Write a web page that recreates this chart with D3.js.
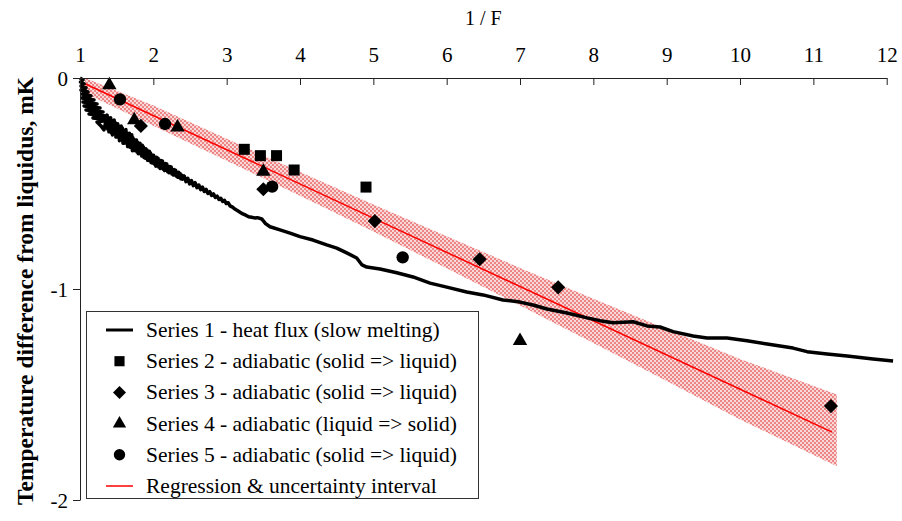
<!DOCTYPE html>
<html>
<head>
<meta charset="utf-8">
<script src="https://cdn.jsdelivr.net/npm/d3@7"></script>
<style>
  body { margin: 0; background: #fff; }
  svg text { font-family: "Liberation Serif", "Times New Roman", serif; }
</style>
</head>
<body>
<div id="chart"></div>
<script>
// axis ticks
const xTicks = [1, 2, 3, 4, 5, 6, 7, 8, 9, 10, 11, 12];
const yTicks = [0, -1, -2];

// Series 1 - heat flux (slow melting), [1/F, mK] - noisy at the start
const heatFlux = [
  [1.000, 0.000], [1.041, -0.009], [1.007, -0.019], [1.055, -0.028], [1.014, -0.038],
  [1.082, -0.047], [1.014, -0.057], [1.109, -0.066], [1.027, -0.076], [1.150, -0.085],
  [1.027, -0.095], [1.191, -0.104], [1.041, -0.114], [1.232, -0.123], [1.055, -0.133],
  [1.273, -0.142], [1.082, -0.152], [1.314, -0.161], [1.123, -0.171], [1.355, -0.180],
  [1.177, -0.190], [1.395, -0.199], [1.232, -0.209], [1.286, -0.227], [1.327, -0.246],
  [1.370, -0.176], [1.378, -0.242], [1.386, -0.193], [1.394, -0.255], [1.402, -0.189],
  [1.410, -0.239], [1.418, -0.188], [1.426, -0.260], [1.434, -0.202], [1.442, -0.270],
  [1.450, -0.213], [1.458, -0.263], [1.466, -0.199], [1.474, -0.263], [1.482, -0.212],
  [1.490, -0.280], [1.498, -0.230], [1.506, -0.280], [1.514, -0.217], [1.522, -0.279],
  [1.530, -0.227], [1.538, -0.297], [1.546, -0.236], [1.554, -0.292], [1.562, -0.228],
  [1.570, -0.286], [1.578, -0.237], [1.586, -0.309], [1.594, -0.251], [1.602, -0.309],
  [1.610, -0.248], [1.618, -0.308], [1.626, -0.244], [1.634, -0.306], [1.642, -0.261],
  [1.650, -0.325], [1.658, -0.273], [1.666, -0.325], [1.674, -0.262], [1.682, -0.328],
  [1.690, -0.272], [1.698, -0.326], [1.706, -0.269], [1.714, -0.345], [1.722, -0.283],
  [1.730, -0.341], [1.738, -0.293], [1.746, -0.344], [1.754, -0.294], [1.762, -0.338],
  [1.770, -0.294], [1.778, -0.351], [1.786, -0.305], [1.794, -0.359], [1.802, -0.315],
  [1.810, -0.357], [1.818, -0.309], [1.826, -0.360], [1.834, -0.320], [1.842, -0.370],
  [1.850, -0.319], [1.858, -0.365], [1.866, -0.327], [1.874, -0.377], [1.882, -0.339],
  [1.890, -0.380], [1.898, -0.335], [1.906, -0.380], [1.914, -0.341], [1.922, -0.390],
  [1.930, -0.349], [1.938, -0.391], [1.946, -0.347], [1.954, -0.389], [1.962, -0.356],
  [1.970, -0.401], [1.978, -0.365], [1.986, -0.403], [1.994, -0.366], [2.004, -0.366],
  [2.014, -0.408], [2.024, -0.378], [2.034, -0.418], [2.044, -0.376], [2.054, -0.411],
  [2.064, -0.380], [2.074, -0.422], [2.084, -0.390], [2.094, -0.429], [2.104, -0.391],
  [2.114, -0.425], [2.124, -0.393], [2.134, -0.432], [2.144, -0.405], [2.154, -0.439],
  [2.164, -0.405], [2.174, -0.437], [2.184, -0.408], [2.194, -0.444], [2.204, -0.419],
  [2.214, -0.449], [2.224, -0.419], [2.234, -0.448], [2.244, -0.422], [2.254, -0.455],
  [2.264, -0.433], [2.274, -0.460], [2.284, -0.434], [2.294, -0.460], [2.304, -0.437],
  [2.314, -0.465], [2.324, -0.446], [2.334, -0.470], [2.344, -0.447], [2.354, -0.472],
  [2.364, -0.453], [2.374, -0.478], [2.384, -0.460], [2.394, -0.480], [2.420, -0.464],
  [2.445, -0.491], [2.470, -0.475], [2.495, -0.502], [2.520, -0.486], [2.545, -0.510],
  [2.570, -0.496], [2.595, -0.520], [2.620, -0.507], [2.645, -0.529], [2.670, -0.517],
  [2.695, -0.538], [2.720, -0.528], [2.745, -0.547], [2.770, -0.539], [2.795, -0.557],
  [2.820, -0.549], [2.845, -0.566], [2.870, -0.560], [2.895, -0.576], [2.920, -0.570],
  [2.945, -0.585], [2.970, -0.580], [2.995, -0.595], [3.020, -0.591], [3.046, -0.606],
  [3.080, -0.612], [3.110, -0.621], [3.145, -0.628], [3.182, -0.636], [3.220, -0.644],
  [3.260, -0.650], [3.300, -0.658], [3.340, -0.660], [3.380, -0.663], [3.420, -0.662],
  [3.478, -0.668], [3.530, -0.690], [3.591, -0.705], [3.727, -0.720], [3.864, -0.735],
  [4.000, -0.752], [4.177, -0.768], [4.364, -0.791], [4.501, -0.806], [4.637, -0.829],
  [4.773, -0.853], [4.846, -0.886], [4.910, -0.896], [5.091, -0.905], [5.319, -0.923],
  [5.541, -0.943], [5.773, -0.972], [6.001, -0.991], [6.273, -1.014], [6.496, -1.028],
  [6.768, -1.052], [7.000, -1.062], [7.177, -1.076], [7.368, -1.095], [7.641, -1.114],
  [7.914, -1.137], [8.091, -1.150], [8.268, -1.160], [8.541, -1.155], [8.732, -1.175],
  [8.909, -1.180], [9.087, -1.202], [9.360, -1.223], [9.550, -1.232], [9.823, -1.232],
  [10.096, -1.245], [10.369, -1.261], [10.723, -1.280], [10.914, -1.297], [11.187, -1.308],
  [11.460, -1.318], [11.814, -1.332], [12.087, -1.341]
];

// adiabatic series, [1/F, mK]
const series2 = [[3.24, -0.338], [3.46, -0.368], [3.68, -0.368], [3.92, -0.436], [4.90, -0.517]];
const series3 = [[1.83, -0.227], [3.50, -0.527], [5.02, -0.678], [6.45, -0.859], [7.52, -0.992], [11.24, -1.555]];
const series4 = [[1.40, -0.033], [1.74, -0.199], [2.33, -0.234], [3.50, -0.444], [7.00, -1.246]];
const series5 = [[1.545, -0.101], [2.16, -0.218], [3.62, -0.515], [5.40, -0.850]];

// regression line and uncertainty interval
const regression = [[1.068, -0.027], [11.255, -1.678]];
const bandX = [1.07, 2, 3, 4, 5, 6, 7, 8, 9, 10, 11.32];
const bandHigh = [0.000, -0.130, -0.288, -0.446, -0.600, -0.750, -0.900, -1.046, -1.190, -1.332, -1.500];
const bandLow = [-0.072, -0.226, -0.392, -0.558, -0.728, -0.902, -1.078, -1.256, -1.436, -1.618, -1.840];

const legendItems = [
  { label: 'Series 1 - heat flux (slow melting)', kind: 'line', color: '#000' },
  { label: 'Series 2 - adiabatic (solid => liquid)', kind: 'square' },
  { label: 'Series 3 - adiabatic (solid => liquid)', kind: 'diamond' },
  { label: 'Series 4 - adiabatic (liquid => solid)', kind: 'triangle' },
  { label: 'Series 5 - adiabatic (solid => liquid)', kind: 'circle' },
  { label: 'Regression & uncertainty interval', kind: 'line', color: '#ff0000' }
];

const width = 902, height = 521;
const serif = '"Liberation Serif", "Times New Roman", serif';

const svg = d3.select('#chart').append('svg')
  .attr('width', width)
  .attr('height', height);

const x = d3.scaleLinear().domain([1, 12]).range([80, 886.7]);
const y = d3.scaleLinear().domain([-2, 0]).range([500, 78]);

// checker pattern for the uncertainty band
const defs = svg.append('defs');
const pat = defs.append('pattern')
  .attr('id', 'checker')
  .attr('patternUnits', 'userSpaceOnUse')
  .attr('width', 4).attr('height', 4);
pat.append('rect').attr('width', 4).attr('height', 4).attr('fill', '#fad8d8');
pat.append('rect').attr('x', 0).attr('y', 0).attr('width', 2).attr('height', 2).attr('fill', '#ec8585');
pat.append('rect').attr('x', 2).attr('y', 2).attr('width', 2).attr('height', 2).attr('fill', '#ec8585');

const bandData = bandX.map((v, i) => ({ x: v, hi: bandHigh[i], lo: bandLow[i] }));
svg.append('path')
  .datum(bandData)
  .attr('fill', 'url(#checker)')
  .attr('d', d3.area().x(d => x(d.x)).y0(d => y(d.lo)).y1(d => y(d.hi)));

svg.append('path')
  .datum(regression)
  .attr('fill', 'none')
  .attr('stroke', '#ff0000')
  .attr('stroke-width', 1.5)
  .attr('d', d3.line().x(d => x(d[0])).y(d => y(d[1])));

svg.append('path')
  .datum(heatFlux)
  .attr('fill', 'none')
  .attr('stroke', '#000')
  .attr('stroke-width', 3.5)
  .attr('stroke-linejoin', 'round')
  .attr('d', d3.line().x(d => x(d[0])).y(d => y(d[1])));

// symbols
const symbolFor = {
  square: { type: d3.symbolSquare, size: 121, rotate: 0 },
  diamond: { type: d3.symbolSquare, size: 100, rotate: 45 },
  triangle: { type: d3.symbolTriangle, size: 90, rotate: 0 },
  circle: { type: d3.symbolCircle, size: 120, rotate: 0 }
};

function drawMarkers(data, kind) {
  const s = symbolFor[kind];
  svg.append('g').selectAll('path')
    .data(data)
    .enter().append('path')
    .attr('d', d3.symbol().type(s.type).size(s.size))
    .attr('fill', '#000')
    .attr('transform', d => `translate(${x(d[0])},${y(d[1])}) rotate(${s.rotate})`);
}
drawMarkers(series2, 'square');
drawMarkers(series3, 'diamond');
drawMarkers(series4, 'triangle');
drawMarkers(series5, 'circle');

// axes
const xAxis = svg.append('g')
  .attr('transform', `translate(0,${y(0)})`)
  .call(d3.axisTop(x).tickValues(xTicks).tickSizeInner(-7).tickSizeOuter(0).tickPadding(16).tickFormat(d => String(d)));

const yAxis = svg.append('g')
  .attr('transform', `translate(${x(1)},0)`)
  .call(d3.axisLeft(y).tickValues(yTicks).tickSizeInner(7).tickSizeOuter(0).tickPadding(5).tickFormat(d => String(d)));

[xAxis, yAxis].forEach(a => {
  a.attr('font-family', serif);
  a.selectAll('path, line').attr('stroke', '#222');
  a.selectAll('text')
    .attr('fill', '#000')
    .style('font-size', '21px');
});
yAxis.selectAll('text').attr('dy', '0.35em');

svg.append('text')
  .attr('x', (x(1) + x(12)) / 2)
  .attr('y', 25)
  .attr('text-anchor', 'middle')
  .attr('font-family', serif)
  .style('font-size', '20px')
  .text('1 / F');

svg.append('text')
  .attr('transform', `translate(33,${(y(0) + y(-2)) / 2 + 2}) rotate(-90)`)
  .attr('text-anchor', 'middle')
  .attr('font-family', serif)
  .style('font-size', '23.5px')
  .style('font-weight', 'bold')
  .text('Temperature difference from liquidus, mK');

// legend
const legend = svg.append('g').attr('font-family', serif);
legend.append('rect')
  .attr('x', 86.5).attr('y', 311.5)
  .attr('width', 392).attr('height', 187)
  .attr('fill', '#fff')
  .attr('stroke', '#333')
  .attr('stroke-width', 1);

const rowY = i => 330 + i * 31.2;
legendItems.forEach((item, i) => {
  const cy = rowY(i);
  if (item.kind === 'line') {
    legend.append('line')
      .attr('x1', 106).attr('x2', 133)
      .attr('y1', cy).attr('y2', cy)
      .attr('stroke', item.color)
      .attr('stroke-width', item.color === '#000' ? 3 : 1.5);
  } else {
    const s = symbolFor[item.kind];
    legend.append('path')
      .attr('d', d3.symbol().type(s.type).size(s.size * 0.85))
      .attr('fill', '#000')
      .attr('transform', `translate(119.5,${cy}) rotate(${s.rotate})`);
  }
  legend.append('text')
    .attr('x', 146)
    .attr('y', cy + 7)
    .attr('font-family', serif)
    .style('font-size', '21.5px')
    .text(item.label);
});
</script>
</body>
</html>
